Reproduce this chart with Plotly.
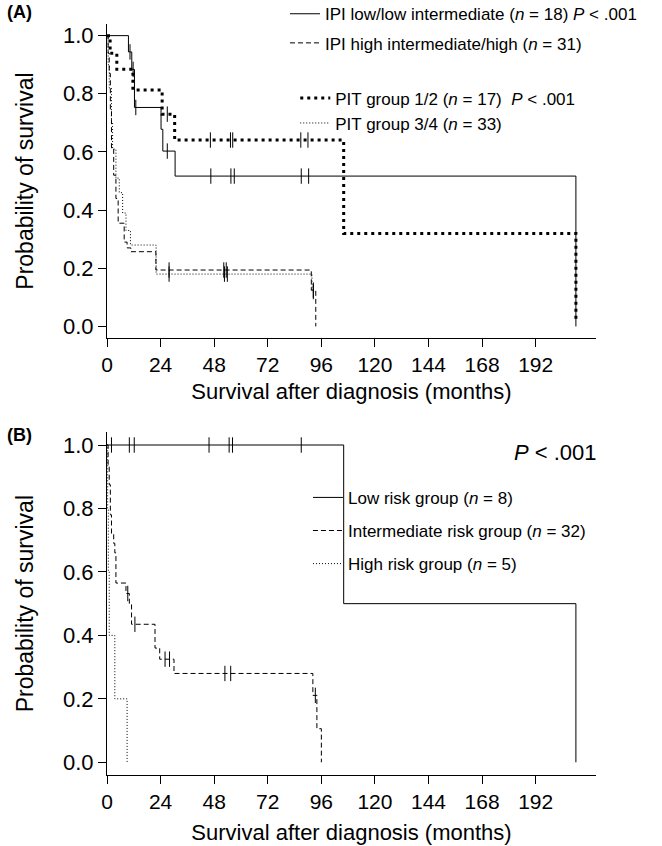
import plotly.graph_objects as go

# ---------------- Panel A data ----------------
ipi_low_t = [0, 9.6, 11.1, 12.3, 24.2, 25.0, 30.5, 210.0]
ipi_low_s = [1.0, 0.944, 0.884, 0.753, 0.678, 0.603, 0.517, 0.0]
ipi_low_cens = [10.3, 11.7, 12.9, 27.0, 46.5, 55.5, 57.0, 87.0, 90.3]

ipi_high_t = [0, 0.5, 1.0, 1.5, 2.0, 3.0, 4.0, 5.0, 7.7, 9.0, 10.7, 21.9, 91.5, 93.5]
ipi_high_s = [1.0, 0.94, 0.87, 0.74, 0.61, 0.52, 0.44, 0.355, 0.29, 0.27, 0.257, 0.194, 0.125, 0.0]
ipi_high_cens = [27.8, 52.3, 53.4, 92.4]

pit12_t = [0, 1.4, 4.4, 11.6, 24.7, 30.3, 106.0, 210.0]
pit12_s = [1.0, 0.939, 0.884, 0.813, 0.730, 0.641, 0.32, 0.02]
pit12_cens = [27.0, 46.3, 55.3, 56.3, 86.8, 90.0]

pit34_t = [0, 0.5, 1.0, 2.0, 2.5, 4.0, 5.5, 7.0, 8.5, 10.5, 22.0, 91.8, 93.0]
pit34_s = [1.0, 0.9, 0.82, 0.7, 0.61, 0.51, 0.46, 0.39, 0.33, 0.28, 0.18, 0.12, 0.12]
pit34_cens = [27.8, 52.6, 53.9, 92.4]

# ---------------- Panel B data ----------------
low_t = [0, 106.0, 210.0]
low_s = [1.0, 0.5, 0.0]
low_cens = [2.0, 10.0, 12.2, 45.7, 54.7, 56.2, 87.0]

int_t = [0, 0.5, 1.0, 1.5, 2.0, 3.0, 3.5, 4.0, 8.5, 10.0, 11.0, 21.5, 23.6, 30.0, 92.2, 94.0, 96.0]
int_s = [1.0, 0.938, 0.875, 0.78, 0.72, 0.69, 0.66, 0.565, 0.532, 0.50, 0.435, 0.36, 0.325, 0.28, 0.211, 0.106, 0.0]
int_cens = [9.3, 12.5, 26.0, 28.0, 52.8, 55.4, 93.3]

high_t = [0, 0.3, 0.6, 1.0, 3.5, 9.0]
high_s = [1.0, 0.8, 0.6, 0.4, 0.2, 0.0]

x_ticks = [0, 24, 48, 72, 96, 120, 144, 168, 192]
y_ticks = [0.0, 0.2, 0.4, 0.6, 0.8, 1.0]

FONT = "Arial, Liberation Sans, sans-serif"


def step_at(ts, ss, c):
    v = ss[0]
    for t, s in zip(ts, ss):
        if t <= c:
            v = s
    return v


fig = go.Figure()


def add_curve(ts, ss, cens, name, dash, width, xa, ya, legend, group):
    fig.add_trace(go.Scatter(
        x=ts, y=ss, mode="lines", line=dict(shape="hv", color="black", width=width, dash=dash),
        name=name, legend=legend, legendgroup=group, xaxis=xa, yaxis=ya,
    ))
    if cens:
        fig.add_trace(go.Scatter(
            x=cens, y=[step_at(ts, ss, c) for c in cens], mode="markers",
            marker=dict(symbol="line-ns", size=11, line=dict(width=1, color="black")),
            showlegend=False, legend=legend, legendgroup=group, xaxis=xa, yaxis=ya, hoverinfo="skip",
        ))


add_curve(ipi_low_t, ipi_low_s, ipi_low_cens,
          "IPI low/low intermediate (<i>n</i> = 18) <i>P</i> < .001", "solid", 1, "x", "y", "legend", "a1")
add_curve(ipi_high_t, ipi_high_s, ipi_high_cens,
          "IPI high intermediate/high (<i>n</i> = 31)", "5px,3px", 1, "x", "y", "legend", "a2")
add_curve(pit12_t, pit12_s, pit12_cens,
          "PIT group 1/2 (<i>n</i> = 17)  <i>P</i> < .001", "3px,4px", 3, "x", "y", "legend2", "a3")
add_curve(pit34_t, pit34_s, pit34_cens,
          "PIT group 3/4 (<i>n</i> = 33)", "1px,2px", 1, "x", "y", "legend2", "a4")

add_curve(low_t, low_s, low_cens, "Low risk group (<i>n</i> = 8)", "solid", 1, "x2", "y2", "legend3", "b1")
add_curve(int_t, int_s, int_cens, "Intermediate risk group (<i>n</i> = 32)", "5px,3px", 1, "x2", "y2", "legend3", "b2")
add_curve(high_t, high_s, None, "High risk group (<i>n</i> = 5)", "1px,2px", 1, "x2", "y2", "legend3", "b3")


def xaxis_style(standoff):
    return dict(range=[0, 219], tickvals=x_ticks, ticks="outside", ticklen=8, tickwidth=1,
                tickcolor="black", showline=True, linecolor="black", linewidth=1, showgrid=False,
                zeroline=False, automargin=False, tickfont=dict(size=21, color="black"),
                title=dict(text="Survival after diagnosis (months)", font=dict(size=22, color="black"),
                           standoff=standoff))


ycommon = dict(range=[-0.04, 1.04], tickvals=y_ticks, tickformat=".1f", ticks="outside", ticklen=8,
               tickwidth=1, tickcolor="black", showline=True, linecolor="black", linewidth=1,
               showgrid=False, zeroline=False, automargin=False, tickfont=dict(size=22, color="black"),
               title=dict(text="Probability of survival", font=dict(size=23, color="black"), standoff=22))

legend_common = dict(bgcolor="rgba(0,0,0,0)", borderwidth=0, font=dict(size=17, color="black", family=FONT),
                     xanchor="left", yanchor="top", itemwidth=30, traceorder="grouped")

fig.update_layout(
    width=662, height=846, template="none",
    paper_bgcolor="white", plot_bgcolor="white",
    font=dict(family=FONT, color="black"),
    margin=dict(l=107, r=66, t=24, b=71, autoexpand=False),
    xaxis=dict(domain=[0, 1], anchor="y", **xaxis_style(8)),
    yaxis=dict(domain=[0.5818, 1.0], anchor="x", **ycommon),
    xaxis2=dict(domain=[0, 1], anchor="y2", **xaxis_style(12)),
    yaxis2=dict(domain=[0.0, 0.4563], anchor="x2", **ycommon),
    legend=dict(x=0.364, y=1.037, tracegroupgap=4, **legend_common),
    legend2=dict(x=0.385, y=0.925, tracegroupgap=0, **legend_common),
    legend3=dict(x=0.411, y=0.393, tracegroupgap=8, **legend_common),
    annotations=[
        dict(text="<b>(A)</b>", xref="paper", yref="paper", x=-0.208, y=1.016, xanchor="left",
             yanchor="middle", showarrow=False, font=dict(size=18, color="black")),
        dict(text="<b>(B)</b>", xref="paper", yref="paper", x=-0.208, y=0.4527, xanchor="left",
             yanchor="middle", showarrow=False, font=dict(size=18, color="black")),
        dict(text="<i>P</i> < .001", xref="paper", yref="paper", x=0.918, y=0.4288, xanchor="center",
             yanchor="middle", showarrow=False, font=dict(size=22, color="black")),
    ],
)

# remove the browser's default 8px body margin so the figure fills the window exactly
fig.write_html("out.html", config={"displayModeBar": False},
               post_script="document.body.style.margin='0';")
